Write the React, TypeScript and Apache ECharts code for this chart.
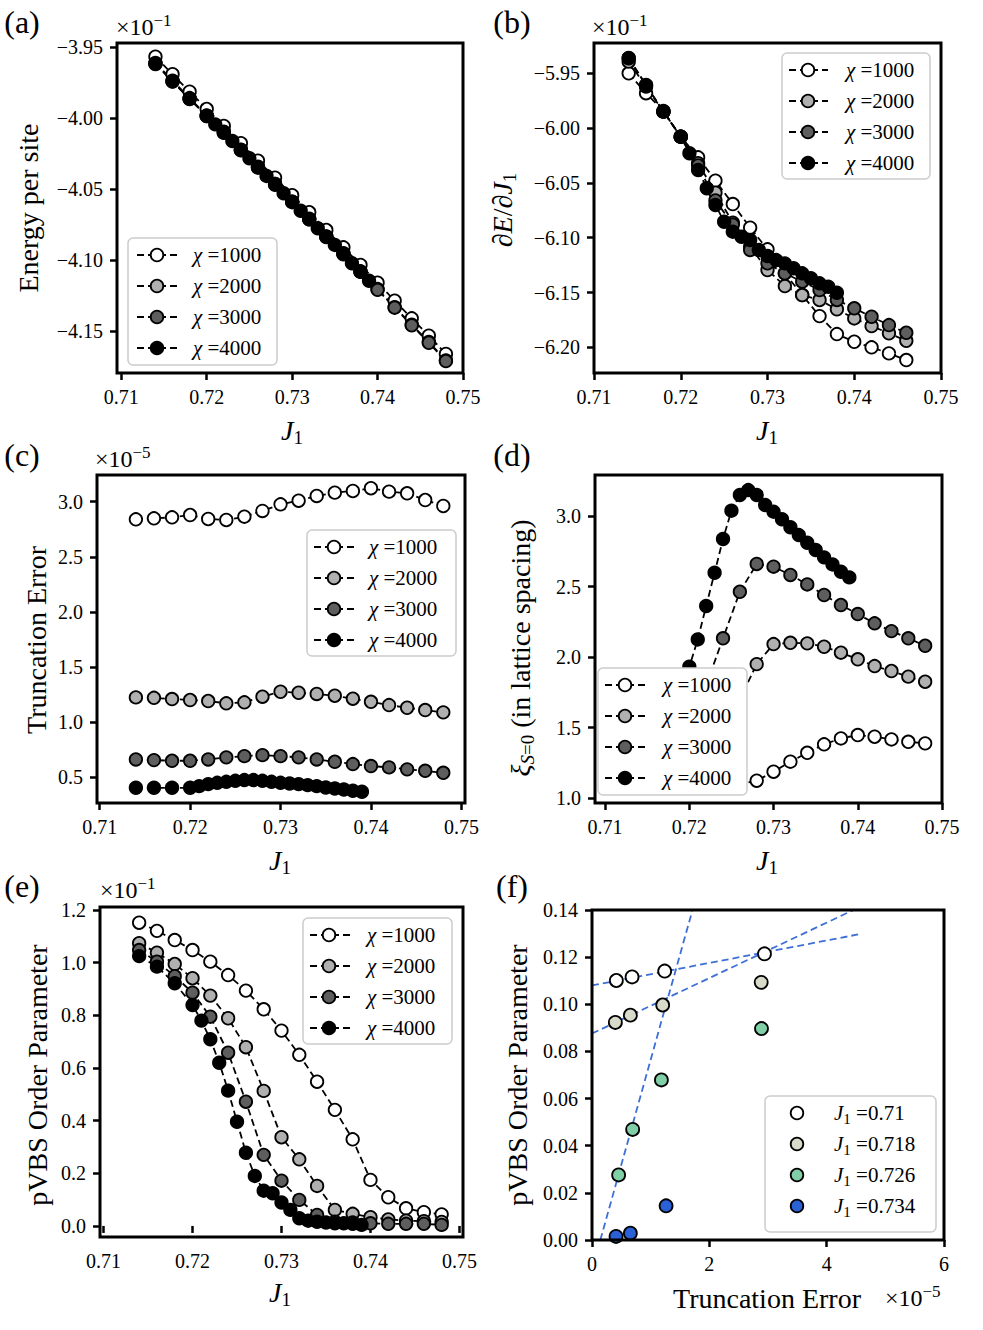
import React, { useEffect, useRef } from "react";
import * as echarts from "echarts";

const FONT = "'Liberation Serif', 'DejaVu Serif', serif";

// ---------- x values (J1) ----------
const J18 = [0.714, 0.716, 0.718, 0.72, 0.722, 0.724, 0.726, 0.728, 0.73, 0.732, 0.734, 0.736, 0.738, 0.74, 0.742, 0.744, 0.746, 0.748];
const J17 = [0.714, 0.716, 0.718, 0.72, 0.722, 0.724, 0.726, 0.728, 0.73, 0.732, 0.734, 0.736, 0.738, 0.74, 0.742, 0.744, 0.746];
const J23 = [0.714, 0.716, 0.718, 0.72, 0.721, 0.722, 0.723, 0.724, 0.725, 0.726, 0.727, 0.728, 0.729, 0.73, 0.731, 0.732, 0.733, 0.734, 0.735, 0.736, 0.737, 0.738, 0.739];
const J22 = [0.714, 0.716, 0.718, 0.72, 0.721, 0.722, 0.723, 0.724, 0.725, 0.726, 0.727, 0.728, 0.729, 0.73, 0.731, 0.732, 0.733, 0.734, 0.735, 0.736, 0.737, 0.738];

// ---------- (a) energy per site (x10^-1) ----------
const a1000 = [-3.9568, -3.9692, -3.9815, -3.9937, -4.0056, -4.0178, -4.0301, -4.042, -4.0544, -4.0664, -4.0789, -4.0911, -4.1035, -4.116, -4.1287, -4.1411, -4.1533, -4.1662];
const a2000 = [-3.9613, -3.9737, -3.986, -3.9982, -4.0101, -4.0223, -4.0346, -4.0465, -4.0589, -4.0709, -4.0834, -4.0956, -4.108, -4.1205, -4.1332, -4.1456, -4.1578, -4.1707];
const a3000 = [-3.9618, -3.9741, -3.9865, -3.9986, -4.0105, -4.0228, -4.035, -4.047, -4.0593, -4.0714, -4.0838, -4.096, -4.1084, -4.121, -4.1336, -4.146, -4.1583, -4.1712];
const a4000 = [-3.962, -3.9744, -3.9866, -3.9986, -4.0045, -4.0096, -4.0162, -4.0225, -4.0284, -4.0343, -4.0408, -4.0465, -4.053, -4.0589, -4.0653, -4.0714, -4.0777, -4.0836, -4.0894, -4.0953, -4.1023, -4.1082, -4.1146];

// ---------- (b) dE/dJ1 (x10^-1) ----------
const b1000 = [-5.95, -5.9682, -5.9844, -6.0078, -6.0267, -6.048, -6.0693, -6.0909, -6.1106, -6.1325, -6.1523, -6.1715, -6.1879, -6.1949, -6.2, -6.2055, -6.2116];
const b2000 = [-5.9394, -5.9622, -5.985, -6.0078, -6.0321, -6.0589, -6.0863, -6.1082, -6.1295, -6.1441, -6.1523, -6.1568, -6.1653, -6.1736, -6.1806, -6.1872, -6.194];
const b3000 = [-5.936, -5.961, -5.985, -6.008, -6.034, -6.066, -6.088, -6.1112, -6.1234, -6.1325, -6.1401, -6.1477, -6.1568, -6.1644, -6.1721, -6.1797, -6.1867];
const b4000 = [-5.9363, -5.9607, -5.985, -6.0078, -6.023, -6.0382, -6.0549, -6.0702, -6.0854, -6.0945, -6.0991, -6.1021, -6.1112, -6.1167, -6.1204, -6.1234, -6.1279, -6.1325, -6.137, -6.1416, -6.1447, -6.1502];

// ---------- (c) truncation error (x10^-5) ----------
const c1000 = [2.84, 2.849, 2.858, 2.879, 2.843, 2.834, 2.864, 2.916, 2.976, 3.009, 3.052, 3.082, 3.097, 3.122, 3.091, 3.076, 3.015, 2.961];
const c2000 = [1.225, 1.221, 1.21, 1.201, 1.192, 1.171, 1.18, 1.231, 1.276, 1.267, 1.256, 1.24, 1.213, 1.185, 1.155, 1.131, 1.11, 1.089];
const c3000 = [0.662, 0.656, 0.65, 0.65, 0.662, 0.681, 0.692, 0.701, 0.692, 0.681, 0.662, 0.641, 0.62, 0.602, 0.59, 0.572, 0.559, 0.541];
const c4000 = [0.405, 0.405, 0.405, 0.405, 0.42, 0.438, 0.45, 0.459, 0.468, 0.475, 0.475, 0.468, 0.459, 0.45, 0.444, 0.438, 0.429, 0.42, 0.408, 0.399, 0.39, 0.378, 0.369];

// ---------- (d) correlation length ----------
const d1000 = [1.08, 1.08, 1.08, 1.09, 1.09, 1.1, 1.1, 1.123, 1.187, 1.258, 1.321, 1.381, 1.423, 1.447, 1.435, 1.416, 1.399, 1.388];
const d2000 = [1.1, 1.14, 1.2, 1.28, 1.4, 1.53, 1.7, 1.95, 2.092, 2.101, 2.097, 2.073, 2.031, 1.984, 1.936, 1.901, 1.861, 1.825];
const d3000 = [1.2, 1.28, 1.4, 1.58, 1.8, 2.133, 2.463, 2.66, 2.641, 2.582, 2.515, 2.44, 2.369, 2.305, 2.239, 2.184, 2.133, 2.08];
const d4000 = [1.3, 1.45, 1.62, 1.931, 2.125, 2.362, 2.598, 2.837, 3.038, 3.149, 3.184, 3.149, 3.078, 3.031, 2.977, 2.92, 2.865, 2.811, 2.759, 2.707, 2.657, 2.605, 2.565];

// ---------- (e) pVBS order parameter (x10^-1) ----------
const e1000 = [1.152, 1.121, 1.086, 1.048, 1.004, 0.953, 0.894, 0.823, 0.742, 0.65, 0.548, 0.441, 0.329, 0.175, 0.109, 0.067, 0.052, 0.044];
const e2000 = [1.074, 1.038, 0.995, 0.941, 0.875, 0.789, 0.679, 0.513, 0.337, 0.253, 0.152, 0.061, 0.046, 0.033, 0.025, 0.02, 0.018, 0.015];
const e3000 = [1.048, 1.004, 0.949, 0.886, 0.795, 0.658, 0.472, 0.27, 0.172, 0.099, 0.042, 0.016, 0.013, 0.01, 0.008, 0.008, 0.008, 0.004];
const e4000 = [1.025, 0.985, 0.922, 0.839, 0.78, 0.709, 0.62, 0.514, 0.396, 0.278, 0.19, 0.134, 0.124, 0.089, 0.061, 0.029, 0.02, 0.016, 0.013, 0.01, 0.01, 0.008, 0.004];

// ---------- (f) order parameter vs truncation error (x10^-5) ----------
const fX_071 = [0.415, 0.683, 1.239, 2.94];
const fY_071 = [0.1101, 0.1116, 0.1141, 0.1214];
const fX_0718 = [0.398, 0.654, 1.205, 2.884];
const fY_0718 = [0.0923, 0.0954, 0.0997, 0.1093];
const fX_0726 = [0.454, 0.693, 1.183, 2.889];
const fY_0726 = [0.0276, 0.0469, 0.0679, 0.0897];
const fX_0734 = [0.41, 0.654, 1.263];
const fY_0734 = [0.0015, 0.0029, 0.0145];
const fitX_071 = [0, 4.55];
const fitY_071 = [0.108, 0.1297];
const fitX_0718 = [0, 4.456];
const fitY_0718 = [0.0876, 0.14];
const fitX_0726 = [0.142, 1.713];
const fitY_0726 = [0, 0.14];

// ---------- tick labels ----------
const X_TICKS = [0.71, 0.72, 0.73, 0.74, 0.75];
const A_Y_TICKS = [-4.15, -4.1, -4.05, -4.0, -3.95];
const B_Y_TICKS = [-6.2, -6.15, -6.1, -6.05, -6.0, -5.95];
const C_Y_TICKS = [0.5, 1.0, 1.5, 2.0, 2.5, 3.0];
const D_Y_TICKS = [1.0, 1.5, 2.0, 2.5, 3.0];
const E_Y_TICKS = [0.0, 0.2, 0.4, 0.6, 0.8, 1.0, 1.2];
const F_Y_TICKS = [0.0, 0.02, 0.04, 0.06, 0.08, 0.1, 0.12, 0.14];
const F_X_TICKS = [0, 2, 4, 6];

const CHI_NAMES = ["1000", "2000", "3000", "4000"];
const CHI_FILLS = ["#ffffff", "#b0b0b0", "#5e5e5e", "#000000"];
const F_NAMES = ["0.71", "0.718", "0.726", "0.734"];
const F_FILLS = ["#ffffff", "#d9dbca", "#80cfa7", "#2b61d6"];
const FIT_COLOR = "#3d6fd6";

// ---------- layout ----------
const PANELS = [
  { left: 117, top: 43, width: 346, height: 330, xMin: 0.7095, xMax: 0.75, yMin: -4.1796, yMax: -3.9472, xTicks: X_TICKS, yTicks: A_Y_TICKS, xDec: 2, yDec: 2 },
  { left: 594, top: 43, width: 347, height: 330, xMin: 0.71, xMax: 0.75, yMin: -6.2234, yMax: -5.9224, xTicks: X_TICKS, yTicks: B_Y_TICKS, xDec: 2, yDec: 2 },
  { left: 97, top: 475, width: 368, height: 328, xMin: 0.7097, xMax: 0.7504, yMin: 0.267, yMax: 3.242, xTicks: X_TICKS, yTicks: C_Y_TICKS, xDec: 2, yDec: 1 },
  { left: 595, top: 475, width: 347, height: 328, xMin: 0.7088, xMax: 0.75, yMin: 0.965, yMax: 3.291, xTicks: X_TICKS, yTicks: D_Y_TICKS, xDec: 2, yDec: 1 },
  { left: 100, top: 907, width: 363, height: 330, xMin: 0.7096, xMax: 0.7504, yMin: -0.042, yMax: 1.2116, xTicks: X_TICKS, yTicks: E_Y_TICKS, xDec: 2, yDec: 1 },
  { left: 592, top: 910, width: 352, height: 330, xMin: 0, xMax: 6, yMin: 0, yMax: 0.14, xTicks: F_X_TICKS, yTicks: F_Y_TICKS, xDec: 0, yDec: 2 },
];

const fmt = (dec: number) => (v: number) => (v < -1e-9 ? "\u2212" : "") + Math.abs(v).toFixed(dec);

const RICH: any = {
  ti: { fontFamily: FONT, fontSize: 28, fontStyle: "italic", lineHeight: 34, fill: "#000" },
  tr: { fontFamily: FONT, fontSize: 28, lineHeight: 34, fill: "#000" },
  ts: { fontFamily: FONT, fontSize: 19, lineHeight: 20, verticalAlign: "bottom", fill: "#000" },
  tsi: { fontFamily: FONT, fontSize: 19, fontStyle: "italic", lineHeight: 20, verticalAlign: "bottom", fill: "#000" },
  li: { fontFamily: FONT, fontSize: 21, fontStyle: "italic", lineHeight: 26, fill: "#000" },
  lr: { fontFamily: FONT, fontSize: 21, lineHeight: 26, fill: "#000" },
  ls: { fontFamily: FONT, fontSize: 15, lineHeight: 15, verticalAlign: "bottom", fill: "#000" },
  om: { fontFamily: FONT, fontSize: 24, lineHeight: 30, fill: "#000" },
  op: { fontFamily: FONT, fontSize: 17, lineHeight: 16, verticalAlign: "top", fill: "#000" },
};

function txt(x: number, y: number, text: string, size: number, align = "center", rot = 0) {
  return {
    type: "text",
    x,
    y,
    rotation: rot,
    z: 40,
    silent: true,
    style: {
      text,
      fill: "#000",
      fontFamily: FONT,
      fontSize: size,
      align,
      verticalAlign: "middle",
      textAlign: align,
      textVerticalAlign: "middle",
      rich: RICH,
    },
  };
}

function legend(x: number, y: number, w: number, h: number, lineX: number[] | null, markerX: number, textX: number, fills: string[], labels: string[]) {
  const els: any[] = [
    {
      type: "rect",
      z: 30,
      silent: true,
      shape: { x, y, width: w, height: h, r: 5 },
      style: { fill: "#ffffff", stroke: "#cccccc", lineWidth: 1.5 },
    },
  ];
  labels.forEach((lab, i) => {
    const cy = y + 17 + i * 31;
    if (lineX) {
      els.push({
        type: "line",
        z: 31,
        silent: true,
        shape: { x1: lineX[0], y1: cy, x2: lineX[1], y2: cy },
        style: { stroke: "#000", lineWidth: 1.8, lineDash: [7, 4] },
      });
    }
    els.push({
      type: "circle",
      z: 32,
      silent: true,
      shape: { cx: markerX, cy, r: 6.3 },
      style: { fill: fills[i], stroke: "#000", lineWidth: 1.8 },
    });
    els.push(txt(textX, cy, lab, 21, "left"));
  });
  return els;
}

function chiSeries(gi: number, xsList: number[][], ysList: number[][]) {
  return ysList.map((ys, k) => ({
    type: "line",
    name: "\u03c7 =" + CHI_NAMES[k],
    xAxisIndex: gi,
    yAxisIndex: gi,
    data: ys.map((v, i) => [xsList[k][i], v]),
    symbol: "circle",
    symbolSize: 12.5,
    showSymbol: true,
    showAllSymbol: true,
    silent: true,
    clip: true,
    z: 2,
    itemStyle: { color: CHI_FILLS[k], borderColor: "#000", borderWidth: 1.8 },
    lineStyle: { color: "#000", width: 1.8, type: [7, 4] },
    emphasis: { disabled: true },
  }));
}

function buildOption() {
  const grid = PANELS.map((p) => ({ left: p.left, top: p.top, width: p.width, height: p.height, show: false }));
  const xAxis = PANELS.map((p, i) => ({
    type: "value",
    gridIndex: i,
    min: p.xMin,
    max: p.xMax,
    axisLine: { show: false },
    splitLine: { show: false },
    axisTick: { show: true, length: 7, lineStyle: { color: "#000", width: 2.5 }, customValues: p.xTicks },
    axisLabel: { show: true, customValues: p.xTicks, formatter: fmt(p.xDec), color: "#000", fontFamily: FONT, fontSize: 20, margin: 14 },
  }));
  const yAxis = PANELS.map((p, i) => ({
    type: "value",
    gridIndex: i,
    min: p.yMin,
    max: p.yMax,
    axisLine: { show: false },
    splitLine: { show: false },
    axisTick: { show: true, length: 7, lineStyle: { color: "#000", width: 2.5 }, customValues: p.yTicks },
    axisLabel: { show: true, customValues: p.yTicks, formatter: fmt(p.yDec), color: "#000", fontFamily: FONT, fontSize: 20, margin: 14 },
  }));

  const series: any[] = [
    ...chiSeries(0, [J18, J18, J18, J23], [a1000, a2000, a3000, a4000]),
    ...chiSeries(1, [J17, J17, J17, J22], [b1000, b2000, b3000, b4000]),
    ...chiSeries(2, [J18, J18, J18, J23], [c1000, c2000, c3000, c4000]),
    ...chiSeries(3, [J18, J18, J18, J23], [d1000, d2000, d3000, d4000]),
    ...chiSeries(4, [J18, J18, J18, J23], [e1000, e2000, e3000, e4000]),
  ];
  const fits = [
    [fitX_071, fitY_071],
    [fitX_0718, fitY_0718],
    [fitX_0726, fitY_0726],
  ];
  fits.forEach(([xs, ys]) => {
    series.push({
      type: "line",
      xAxisIndex: 5,
      yAxisIndex: 5,
      data: xs.map((x, i) => [x, ys[i]]),
      symbol: "none",
      silent: true,
      clip: true,
      z: 2,
      lineStyle: { color: FIT_COLOR, width: 1.8, type: [7, 4] },
      emphasis: { disabled: true },
    });
  });
  const fPts = [
    [fX_071, fY_071],
    [fX_0718, fY_0718],
    [fX_0726, fY_0726],
    [fX_0734, fY_0734],
  ];
  fPts.forEach(([xs, ys], k) => {
    series.push({
      type: "scatter",
      name: "J1 =" + F_NAMES[k],
      xAxisIndex: 5,
      yAxisIndex: 5,
      data: xs.map((x, i) => [x, ys[i]]),
      symbol: "circle",
      symbolSize: 13,
      silent: true,
      z: 3,
      itemStyle: { color: F_FILLS[k], borderColor: "#000", borderWidth: 1.8, opacity: 1 },
      emphasis: { disabled: true },
    });
  });

  const g: any[] = [];
  // frames
  PANELS.forEach((p) => {
    g.push({
      type: "rect",
      z: 50,
      silent: true,
      shape: { x: p.left, y: p.top, width: p.width, height: p.height },
      style: { fill: "transparent", stroke: "#000", lineWidth: 3 },
    });
  });
  // panel letters
  g.push(txt(22, 22, "(a)", 32));
  g.push(txt(512, 22, "(b)", 32));
  g.push(txt(22, 455, "(c)", 32));
  g.push(txt(512, 455, "(d)", 32));
  g.push(txt(22, 886, "(e)", 32));
  g.push(txt(512, 886, "(f)", 32));
  // scale offsets
  g.push(txt(116, 27, "{om|\u00d710}{op|\u22121}", 24, "left"));
  g.push(txt(592, 27, "{om|\u00d710}{op|\u22121}", 24, "left"));
  g.push(txt(95, 459, "{om|\u00d710}{op|\u22125}", 24, "left"));
  g.push(txt(100, 890, "{om|\u00d710}{op|\u22121}", 24, "left"));
  g.push(txt(885, 1298, "{om|\u00d710}{op|\u22125}", 24, "left"));
  // x titles
  const J1 = "{ti|J}{ts|1}";
  g.push(txt(292, 430, J1, 28));
  g.push(txt(767, 430, J1, 28));
  g.push(txt(280, 860, J1, 28));
  g.push(txt(767, 860, J1, 28));
  g.push(txt(280, 1292, J1, 28));
  g.push(txt(767, 1298, "{tr|Truncation Error}", 28));
  // y titles
  const R = Math.PI / 2;
  g.push(txt(28, 208, "{tr|Energy per site}", 28, "center", R));
  g.push(txt(502, 210, "{tr|\u2202}{ti|E}{tr|/\u2202}{ti|J}{ts|1}", 28, "center", R));
  g.push(txt(36, 640, "{tr|Truncation Error}", 28, "center", R));
  g.push(txt(520, 648, "{ti|\u03be}{tsi|S}{ts|=0}{tr| (in lattice spacing)}", 28, "center", R));
  g.push(txt(37, 1075, "{tr|pVBS Order Parameter}", 28, "center", R));
  g.push(txt(517, 1075, "{tr|pVBS Order Parameter}", 28, "center", R));
  // legends
  const chiLabels = CHI_NAMES.map((n) => "{li|\u03c7}{lr| =" + n + "}");
  g.push(...legend(128, 238, 149, 127, [137, 177], 157, 193, CHI_FILLS, chiLabels));
  g.push(...legend(782, 53, 148, 126, [789, 828], 808, 846, CHI_FILLS, chiLabels));
  g.push(...legend(307, 530, 149, 126, [314, 355], 334, 369, CHI_FILLS, chiLabels));
  g.push(...legend(598, 668, 149, 127, [605, 645], 625, 663, CHI_FILLS, chiLabels));
  g.push(...legend(303, 918, 149, 126, [310, 353], 329, 367, CHI_FILLS, chiLabels));
  const fLabels = F_NAMES.map((n) => "{li|J}{ls|1}{lr| =" + n + "}");
  g.push(...legend(765, 1096, 171, 136, null, 797, 834, F_FILLS, fLabels));

  return {
    animation: false,
    backgroundColor: "#ffffff",
    textStyle: { fontFamily: FONT },
    grid,
    xAxis,
    yAxis,
    series,
    graphic: { elements: g },
  };
}

export default function App() {
  const ref = useRef<HTMLDivElement>(null);
  useEffect(() => {
    const chart = echarts.init(ref.current!, null, { renderer: "svg" });
    chart.setOption(buildOption() as any);
    return () => chart.dispose();
  }, []);
  return (
    <div
      ref={ref}
      style={{ position: "absolute", left: 0, top: 0, width: 983, height: 1330, background: "#fff" }}
    />
  );
}
